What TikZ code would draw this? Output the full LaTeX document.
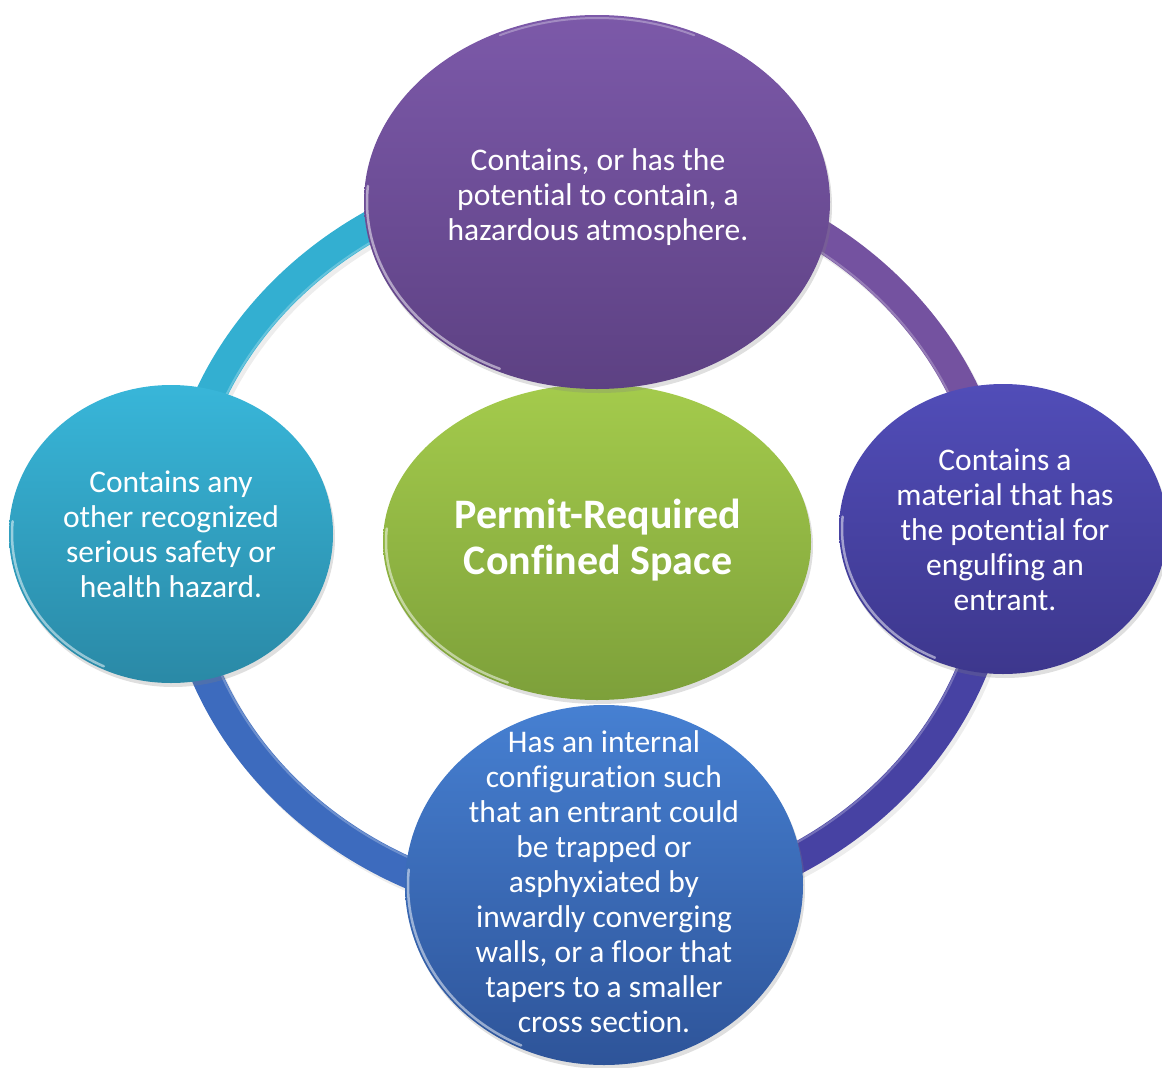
\documentclass[tikz,border=0pt]{standalone}
\usepackage{fontspec}
\setmainfont[Ligatures=NoCommon]{Carlito}
\usetikzlibrary{shapes.geometric,shadows}
\definecolor{cyanT}{HTML}{38B6D9}
\definecolor{cyanB}{HTML}{2A89A6}
\definecolor{purT}{HTML}{7C59A9}
\definecolor{purB}{HTML}{5D4183}
\definecolor{indT}{HTML}{514DB8}
\definecolor{indB}{HTML}{3D378D}
\definecolor{bluT}{HTML}{4680D2}
\definecolor{bluB}{HTML}{2E5499}
\definecolor{grnT}{HTML}{A4CB4C}
\definecolor{grnB}{HTML}{7DA03A}
\definecolor{ringC}{HTML}{33AFD1}
\definecolor{ringP}{HTML}{7452A0}
\definecolor{ringI}{HTML}{4742A3}
\definecolor{ringB}{HTML}{3D6BBE}
\begin{document}
\begin{tikzpicture}[x=1pt,y=-1pt,
  bubble/.style={ellipse, draw=none, inner sep=0pt,
    drop shadow={opacity=0.25, shadow xshift=2pt, shadow yshift=-4pt}},
  label/.style={text=white, align=center, inner sep=0pt, font=\fontsize{31.5}{35}\selectfont},
  ringseg/.style={line width=31pt, line cap=butt},
  shine/.style={white, opacity=0.5, line width=2.5pt, line cap=round},
]
\useasboundingbox (0,0) rectangle (1162,1068);
\coordinate (rc) at (588,540);
% ring shadow
\draw[black, opacity=0.07, line width=31pt] (591,544) ellipse [x radius=410, y radius=370];
% ring segments
\draw[ringseg, ringC] ([shift={(180:410 and 370)}]rc) arc[start angle=180, end angle=270, x radius=410, y radius=370];
\draw[ringseg, ringP] ([shift={(270:410 and 370)}]rc) arc[start angle=270, end angle=360, x radius=410, y radius=370];
\draw[ringseg, ringI] ([shift={(0:410 and 370)}]rc) arc[start angle=0, end angle=90, x radius=410, y radius=370];
\draw[ringseg, ringB] ([shift={(90:410 and 370)}]rc) arc[start angle=90, end angle=180, x radius=410, y radius=370];
% ring inner light edge
\draw[white, opacity=0.25, line width=2pt] (rc) ellipse [x radius=396, y radius=356];

% center
\node[bubble, minimum width=428pt, minimum height=316pt, top color=grnT, bottom color=grnB] (Cs) at (597,542) {};
\draw[shine] ([shift={(115:211 and 155)}]Cs.center) arc[start angle=115, end angle=185, x radius=211, y radius=155];
\node[label, font=\fontsize{42}{46}\selectfont\bfseries] (C) at (598,540) {Permit-Required\\Confined Space};

% top
\node[bubble, minimum width=466pt, minimum height=374pt, top color=purT, bottom color=purB] (Ts) at (597,202) {};
\draw[shine] ([shift={(115:230 and 184)}]Ts.center) arc[start angle=115, end angle=185, x radius=230, y radius=184];
\draw[white, opacity=0.3, line width=2pt, line cap=round] ([shift={(245:230 and 184)}]Ts.center) arc[start angle=245, end angle=295, x radius=230, y radius=184];
\node[label] (T) at (598,197) {Contains, or has the\\potential to contain, a\\hazardous atmosphere.};

% left
\node[bubble, minimum width=324pt, minimum height=298pt, top color=cyanT, bottom color=cyanB] (Ls) at (171,534) {};
\draw[shine] ([shift={(115:159 and 146)}]Ls.center) arc[start angle=115, end angle=185, x radius=159, y radius=146];
\node[label] (L) at (171,534) {Contains any\\other recognized\\serious safety or\\health hazard.};

% right
\node[bubble, minimum width=328pt, minimum height=290pt, top color=indT, bottom color=indB] (Rs) at (1003,529) {};
\draw[shine] ([shift={(115:161 and 142)}]Rs.center) arc[start angle=115, end angle=185, x radius=161, y radius=142];
\node[label] (R) at (1005,530) {Contains a\\material that has\\the potential for\\engulfing an\\entrant.};

% bottom
\node[bubble, minimum width=398pt, minimum height=360pt, top color=bluT, bottom color=bluB] (Bs) at (604,885) {};
\draw[shine] ([shift={(115:196 and 177)}]Bs.center) arc[start angle=115, end angle=185, x radius=196, y radius=177];
\node[label] (B) at (604,882) {Has an internal\\configuration such\\that an entrant could\\be trapped or\\asphyxiated by\\inwardly converging\\walls, or a floor that\\tapers to a smaller\\cross section.};
\end{tikzpicture}
\end{document}
